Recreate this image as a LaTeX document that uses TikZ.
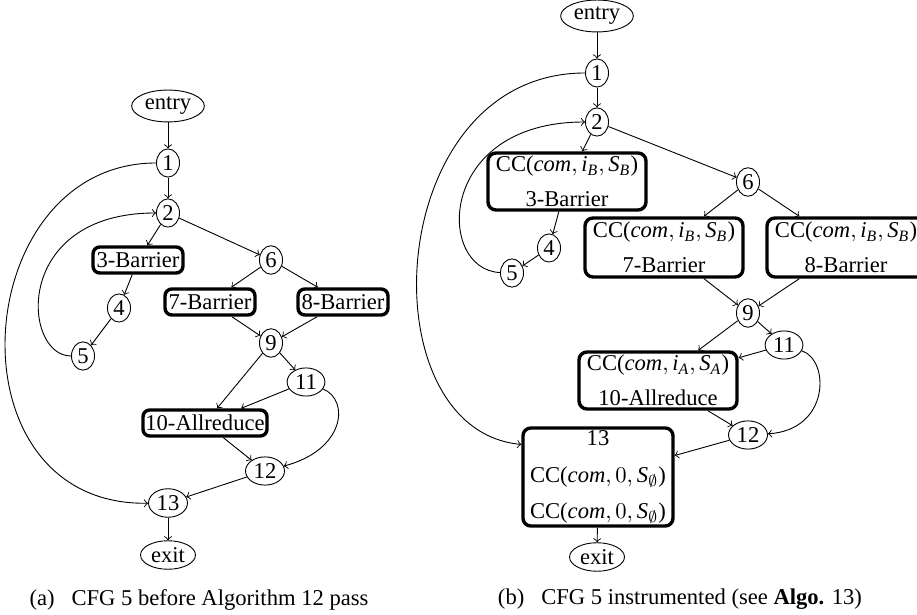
\documentclass[tikz,border=0pt]{standalone}
\usepackage{fontspec}
\setmainfont{Liberation Serif}
\usetikzlibrary{shapes.geometric}
\newcommand{\ccB}{CC($\mathit{com}, \mathit{i}_{\mathit{B}}, \mathit{S}_{\mathit{B}}$)}
\newcommand{\ccA}{CC($\mathit{com}, \mathit{i}_{\mathit{A}}, \mathit{S}_{\mathit{A}}$)}
\newcommand{\ccZ}{CC($\mathit{com}, 0, \mathit{S}_{\emptyset}$)}
\begin{document}
\begin{tikzpicture}[x=0.4425pt,y=-0.4425pt,
  el/.style={draw, ellipse, inner sep=1.1pt, line width=0.4pt},
  bx/.style={draw, rounded corners=3pt, line width=1.5pt, minimum width=39.8pt, minimum height=11.5pt, inner sep=0pt},
  ccbox/.style={draw, rounded corners=3.5pt, line width=1.5pt, align=center, minimum width=69.9pt, minimum height=25.2pt, inner sep=0pt},
  ed/.style={->, line width=0.4pt},
  captext/.style={inner sep=0pt}]
\useasboundingbox (0,0) rectangle (917,615);

% ---------------- (a) ----------------
\node[el] (aentry) at (168,106) {entry};
\node[el] (a1) at (168,163) {1};
\node[el] (a2) at (168,213) {2};
\node[bx] (a3) at (138,260) {3-Barrier};
\node[el] (a6) at (271,260) {6};
\node[bx] (a7) at (210,302) {7-Barrier};
\node[bx] (a8) at (343,302) {8-Barrier};
\node[el] (a4) at (119,308) {4};
\node[el] (a5) at (83,356) {5};
\node[el] (a9) at (271,343) {9};
\node[el] (a11) at (306,382) {11};
\node[bx, minimum width=54.9pt] (a10) at (205,423) {10-Allreduce};
\node[el] (a12) at (265,471) {12};
\node[el] (a13) at (168,503) {13};
\node[el] (aexit) at (168,555) {exit};
\node[captext] (capa) at (199,600) {(a)\hspace{5pt} CFG 5 before Algorithm 12 pass};

\draw[ed] (aentry) -- (a1);
\draw[ed] (a1) -- (a2);
\draw[ed] (a1) .. controls (-32,163) and (-55,506) .. (a13);
\draw[ed] (a2) -- (a3);
\draw[ed] (a2) -- (a6);
\draw[ed] (a3) -- (a4);
\draw[ed] (a4) -- (a5);
\draw[ed] (a5) .. controls (22,356) and (12,213) .. (a2);
\draw[ed] (a6) -- (a7);
\draw[ed] (a6) -- (a8);
\draw[ed] (a7) -- (a9);
\draw[ed] (a8) -- (a9);
\draw[ed] (a9) -- (a10);
\draw[ed] (a9) -- (a11);
\draw[ed] (a11) -- (a10);
\draw[ed] (a11) .. controls (350,400) and (345,450) .. (a12);
\draw[ed] (a10) -- (a12);
\draw[ed] (a12) -- (a13);
\draw[ed] (a13) -- (aexit);

% ---------------- (b) ----------------
\node[el] (bentry) at (597,16) {entry};
\node[el] (b1) at (597,73) {1};
\node[el] (b2) at (597,122) {2};
\node[ccbox] (b3) at (567,181.5) {\ccB\\[3.5pt]3-Barrier};
\node[el] (b6) at (748,182) {6};
\node[ccbox, minimum height=26.1pt] (b7) at (664,247.5) {\ccB\\[3.5pt]7-Barrier};
\node[ccbox, minimum height=26.1pt] (b8) at (846,247.5) {\ccB\\[3.5pt]8-Barrier};
\node[el] (b4) at (549,248) {4};
\node[el] (b5) at (512,273) {5};
\node[el] (b9) at (748,313) {9};
\node[el] (b11) at (784,345) {11};
\node[ccbox] (b10) at (658,380.5) {\ccA\\[3.5pt]10-Allreduce};
\node[el] (b12) at (748,435) {12};
\node[ccbox, minimum width=66.4pt, minimum height=43.4pt] (b13) at (598,477) {13\\[4pt]\ccZ\\[4pt]\ccZ};
\node[el] (bexit) at (597,557) {exit};
\node[captext] (capb) at (680,599) {(b)\hspace{5pt} CFG 5 instrumented (see \textbf{Algo.} 13)};

\draw[ed] (bentry) -- (b1);
\draw[ed] (b1) -- (b2);
\draw[ed] (b1) .. controls (382,73) and (365,430) .. (b13.157);
\draw[ed] (b2) -- (b3);
\draw[ed] (b2) -- (b6);
\draw[ed] (b3) -- (b4);
\draw[ed] (b4) -- (b5);
\draw[ed] (b5) .. controls (436,270) and (436,122) .. (b2);
\draw[ed] (b6) -- (b7);
\draw[ed] (b6) -- (b8);
\draw[ed] (b7) -- (b9);
\draw[ed] (b8) -- (b9);
\draw[ed] (b9) -- (b10);
\draw[ed] (b9) -- (b11);
\draw[ed] (b11) -- (b10);
\draw[ed] (b11) .. controls (830,360) and (830,430) .. (b12);
\draw[ed] (b10) -- (b12);
\draw[ed] (b12) -- (b13);
\draw[ed] (b13) -- (bexit);
\end{tikzpicture}
\end{document}
